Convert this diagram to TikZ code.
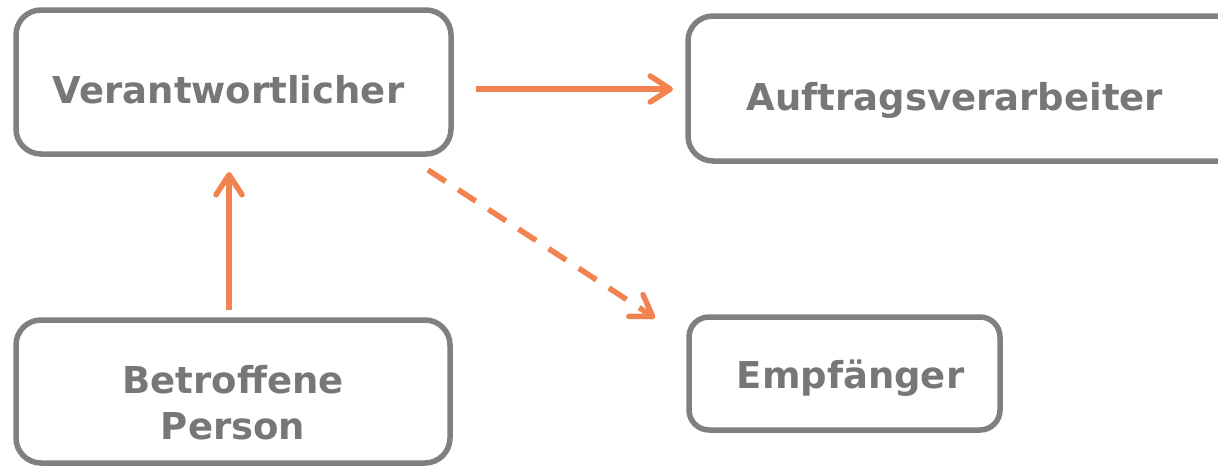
\documentclass[tikz,border=0pt]{standalone}
\usepackage{fontspec}
\setmainfont{DejaVu Sans}
\usetikzlibrary{arrows.meta}
\definecolor{boxgray}{HTML}{808080}
\definecolor{txtgray}{HTML}{777777}
\definecolor{arrorange}{HTML}{F2824F}
\begin{document}
\begin{tikzpicture}[x=1pt,y=-1pt,
  box/.style={draw=boxgray, line width=5.5pt, rounded corners=#1, outer sep=0pt, inner sep=0pt, shape=rectangle},
  box/.default=25pt,
  lbl/.style={text=txtgray, font=\bfseries\fontsize{37}{46}\selectfont, align=center, inner sep=0pt, anchor=base},
  conn/.style={draw=arrorange, line width=5.5pt, -{Straight Barb[length=20pt,width=26pt,line width=5.5pt,round]}}
]
\useasboundingbox (0,0) rectangle (1218,466);
\fill[white] (0,0) rectangle (1218,466);
% boxes
\node[box, minimum width=435pt, minimum height=144pt] (V) at (233.5,82) {};
\node[box, minimum width=557pt, minimum height=145pt] (A) at (966.5,88.5) {};
\node[box, minimum width=434pt, minimum height=143pt] (B) at (233,391.5) {};
\node[box=20pt, minimum width=311pt, minimum height=113pt] (E) at (844.5,373.5) {};
% labels
\node[lbl] (Vt) at (228.5,103) {Verantwortlicher};
\node[lbl] (At) at (955,110) {Auftragsverarbeiter};
\node[lbl] (Bt) at (233,439) {Betroffene\\Person};
\node[lbl] (Et) at (850.5,388) {Empfänger};
% connectors
\draw[conn] ([shift={(25,7)}]V.east) -- ([shift={(-15,0.5)}]A.west);
\draw[conn] ([shift={(-4,-10)}]B.north) -- ([shift={(-4.5,18)}]V.south);
\draw[conn, dash pattern=on 21pt off 15pt] ([shift={(-23,16)}]V.south east) -- ([shift={(-34,1)}]E.north west);
\end{tikzpicture}
\end{document}
